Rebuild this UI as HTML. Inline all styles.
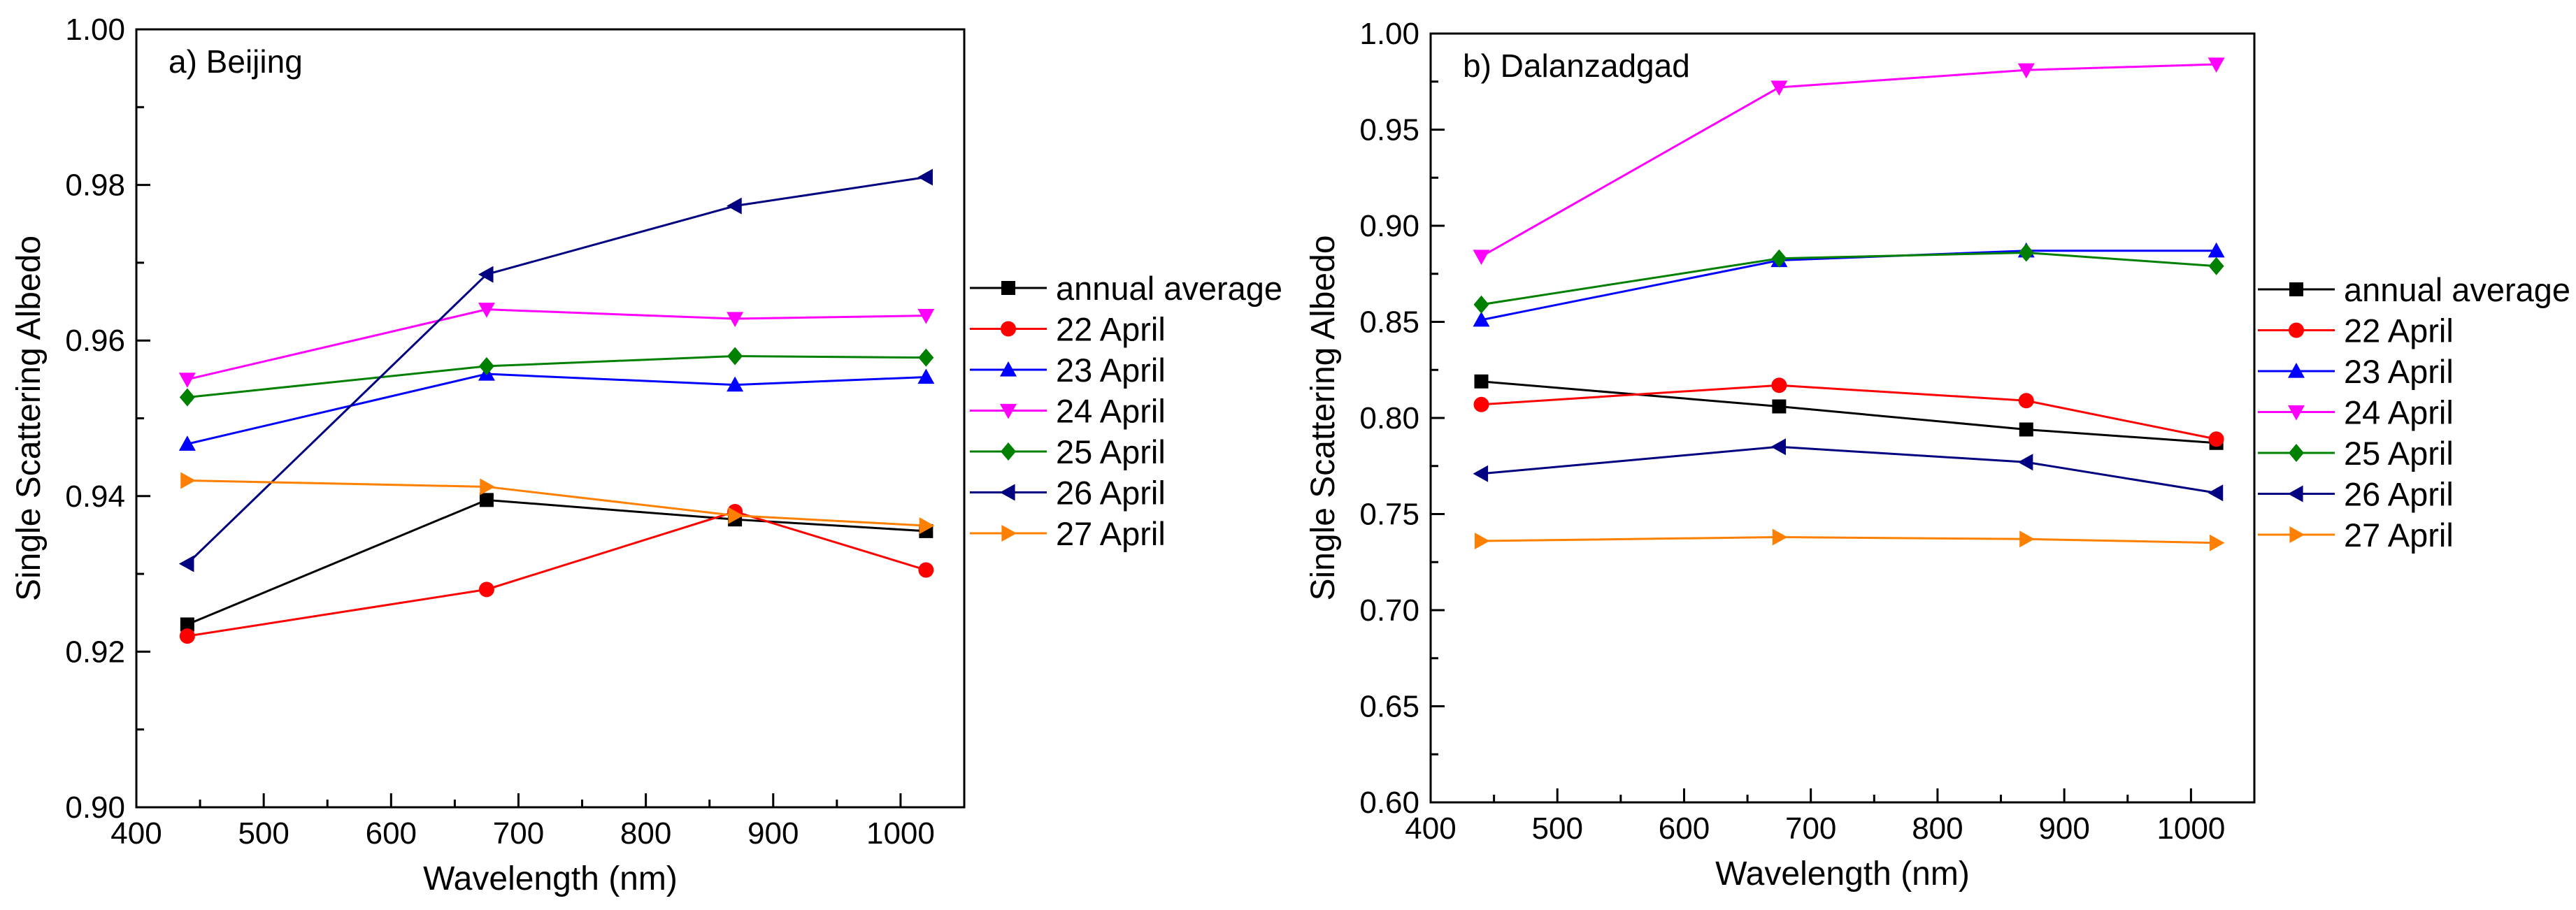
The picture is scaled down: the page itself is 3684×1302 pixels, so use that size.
<!DOCTYPE html>
<html><head><meta charset="utf-8"><style>
body{margin:0;background:#fff}
svg{display:block;font-family:"Liberation Sans",Arial,sans-serif}
</style></head><body>
<svg id="c" width="3684" height="1302" viewBox="0 0 3684 1302"></svg>
<script>
const wavelengths=[440,675,870,1020];
const seriesNames=["annual average","22 April","23 April","24 April","25 April","26 April","27 April"];
const beijingValues=[
[0.9235,0.9395,0.937,0.9355],
[0.922,0.928,0.938,0.9305],
[0.9467,0.9557,0.9543,0.9553],
[0.955,0.964,0.9628,0.9632],
[0.9527,0.9567,0.958,0.9578],
[0.9313,0.9685,0.9773,0.981],
[0.942,0.9412,0.9375,0.9362]];
const dalanValues=[
[0.819,0.806,0.794,0.787],
[0.807,0.817,0.809,0.789],
[0.851,0.882,0.887,0.887],
[0.884,0.972,0.981,0.984],
[0.859,0.883,0.886,0.879],
[0.771,0.785,0.777,0.761],
[0.736,0.738,0.737,0.735]];
const xTicks=[400,500,600,700,800,900,1000];
const beijingYTicks=["0.90","0.92","0.94","0.96","0.98","1.00"];
const dalanYTicks=["0.60","0.65","0.70","0.75","0.80","0.85","0.90","0.95","1.00"];
const colors=["#000","#ff0000","#0000ff","#ff00ff","#008000","#000080","#ff8000"];
const markers=["square","circle","up","down","diamond","left","right"];
const NS="http://www.w3.org/2000/svg";
const svg=document.getElementById('c');
function mk(t,a,p){const e=document.createElementNS(NS,t);for(const k in a)e.setAttribute(k,a[k]);(p||svg).appendChild(e);return e;}
function marker(g,type,x,y,c){
  const s=12;let e;
  if(type=="square")e=mk('rect',{x:x-10,y:y-10,width:20,height:20,fill:c},g);
  else if(type=="circle")e=mk('circle',{cx:x,cy:y,r:11,fill:c},g);
  else{let p;
    if(type=="up")p=[[x,y-s],[x+s,y+s*0.8],[x-s,y+s*0.8]];
    if(type=="down")p=[[x,y+s],[x+s,y-s*0.8],[x-s,y-s*0.8]];
    if(type=="left")p=[[x-s,y],[x+s*0.8,y-s],[x+s*0.8,y+s]];
    if(type=="right")p=[[x+s,y],[x-s*0.8,y-s],[x-s*0.8,y+s]];
    if(type=="diamond")p=[[x,y-13],[x+11,y],[x,y+13],[x-11,y]];
    e=mk('polygon',{points:p.map(q=>q.join(',')).join(' '),fill:c},g);}
  
  
}
function panel(o){
  const g=mk('g',{});
  
  
  const X=v=>o.x0+(v-400)/(1050-400)*(o.x1-o.x0);
  const Y=v=>o.y1-(v-o.ymin)/(o.ymax-o.ymin)*(o.y1-o.y0);
  const fr=mk('rect',{x:o.x0,y:o.y0,width:o.x1-o.x0,height:o.y1-o.y0,fill:'none',stroke:'#000','stroke-width':3},g);
  
  for(let v=400;v<=1050;v+=50){const maj=v%100==0;
    mk('line',{x1:X(v),x2:X(v),y1:o.y1,y2:o.y1-(maj?20:11),stroke:'#000','stroke-width':3},g);}
  xTicks.forEach(v=>{const t=mk('text',{x:X(v),y:o.y1+52,'font-size':44,'text-anchor':'middle'},g);t.textContent=v;
    });
  o.yt.forEach((lab,i)=>{const v=parseFloat(lab);
    mk('line',{x1:o.x0,x2:o.x0+20,y1:Y(v),y2:Y(v),stroke:'#000','stroke-width':3},g);
    if(i<o.yt.length-1){const m=(v+parseFloat(o.yt[i+1]))/2;mk('line',{x1:o.x0,x2:o.x0+11,y1:Y(m),y2:Y(m),stroke:'#000','stroke-width':3},g);}
    const t=mk('text',{x:o.x0-16,y:Y(v)+15,'font-size':44,'text-anchor':'end'},g);t.textContent=lab;
    });
  let t=mk('text',{x:(o.x0+o.x1)/2,y:o.y1+118,'font-size':48,'text-anchor':'middle'},g);t.textContent="Wavelength (nm)";
  
  t=mk('text',{x:0,y:0,'font-size':48,'text-anchor':'middle',transform:`translate(${o.x0-138},${(o.y0+o.y1)/2}) rotate(-90)`},g);t.textContent="Single Scattering Albedo";
  
  t=mk('text',{x:o.x0+46,y:o.y0+62,'font-size':46},g);t.textContent=o.title;
  
  o.data.forEach((vals,si)=>{const sg=mk('g',{},g);
    
    
    const l=mk('polyline',{points:vals.map((v,i)=>X(wavelengths[i])+','+Y(v)).join(' '),fill:'none',stroke:colors[si],'stroke-width':3},sg);
    
    vals.forEach((v,i)=>marker(sg,markers[si],X(wavelengths[i]),Y(v),colors[si]));});
  const lg=mk('g',{});
  
  seriesNames.forEach((n,i)=>{const y=o.ly+i*58.5;const eg=mk('g',{},lg);
    
    mk('line',{x1:o.lx,x2:o.lx+110,y1:y,y2:y,stroke:colors[i],'stroke-width':3},eg);
    marker(eg,markers[i],o.lx+55,y,colors[i]);
    const tt=mk('text',{x:o.lx+123,y:y+17,'font-size':47},eg);tt.textContent=n;});
}
panel({name:'panel-beijing',x0:195,x1:1379,y0:42,y1:1155,ymin:0.90,ymax:1.00,yt:beijingYTicks,data:beijingValues,title:"a) Beijing",lx:1387,ly:412});
panel({name:'panel-dalanzadgad',x0:2046,x1:3224,y0:48,y1:1148,ymin:0.60,ymax:1.00,yt:dalanYTicks,data:dalanValues,title:"b) Dalanzadgad",lx:3229,ly:414});
</script>
</body></html>
